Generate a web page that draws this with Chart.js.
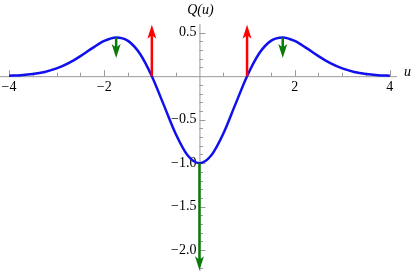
<!DOCTYPE html>
<html>
<head>
<meta charset="utf-8">
<script src="https://cdn.jsdelivr.net/npm/chart.js@4/dist/chart.umd.min.js"></script>
<style>
  html, body { margin: 0; padding: 0; background: #fff; }
  canvas { display: block; }
</style>
</head>
<body>
<canvas id="qChart" width="415" height="271"></canvas>
<script>
// Q(u) curve, values
const uValues = [-4, -3.75, -3.5, -3.25, -3, -2.75, -2.5, -2.25, -2, -1.75, -1.5, -1.25, -1, -0.75, -0.5, -0.25,
  0, 0.25, 0.5, 0.75, 1, 1.25, 1.5, 1.75, 2, 2.25, 2.5, 2.75, 3, 3.25, 3.5, 3.75, 4];
const qValues = [0.005, 0.012, 0.025, 0.049, 0.089, 0.150, 0.231, 0.323, 0.406, 0.446, 0.406, 0.258, 0, -0.330, -0.662, -0.909,
  -1, -0.909, -0.662, -0.330, 0, 0.258, 0.406, 0.446, 0.406, 0.323, 0.231, 0.150, 0.089, 0.049, 0.025, 0.012, 0.005];

// arrows: position, start, end, colour
const arrowU = [-1.75, -1, 1, 1.75, 0];
const arrowFrom = [0.446, 0, 0, 0.446, -1];
const arrowTo = [0.21, 0.59, 0.59, 0.21, -2.23];
const arrowColors = ['#0a7a0a', '#ff0000', '#ff0000', '#0a7a0a', '#0a7a0a'];

// tick labels
const xTickLabels = [-4, -2, 2, 4];
const yTickLabels = [0.5, -0.5, -1.0, -1.5, -2.0];

function fmt(v, digits) {
  const s = Math.abs(v).toFixed(digits);
  return (v < 0 ? '\u2212' : '') + s;
}

const axesPlugin = {
  id: 'mathAxes',
  beforeDatasetsDraw(chart) {
    const ctx = chart.ctx;
    const xs = chart.scales.x, ys = chart.scales.y;
    const area = chart.chartArea;
    const x0 = xs.getPixelForValue(0), y0 = ys.getPixelForValue(0);
    ctx.save();
    ctx.strokeStyle = '#999';
    ctx.lineWidth = 1;
    ctx.beginPath();
    ctx.moveTo(area.left, y0 + 0.5); ctx.lineTo(area.right, y0 + 0.5);
    ctx.moveTo(x0 + 0.5, area.top); ctx.lineTo(x0 + 0.5, area.bottom);
    // x ticks (minor every 0.5, major every 2)
    for (let k = -8; k <= 8; k++) {
      if (k === 0) continue;
      const px = Math.round(xs.getPixelForValue(k * 0.5)) + 0.5;
      const len = (k % 4 === 0) ? 6 : 3.5;
      ctx.moveTo(px, y0); ctx.lineTo(px, y0 - len);
    }
    // y ticks (minor every 0.1, major every 0.5)
    for (let k = -22; k <= 5; k++) {
      if (k === 0) continue;
      const py = Math.round(ys.getPixelForValue(k * 0.1)) + 0.5;
      const len = (k % 5 === 0) ? 6 : 3.5;
      ctx.moveTo(x0, py); ctx.lineTo(x0 + len, py);
    }
    ctx.stroke();

    ctx.fillStyle = '#000';
    ctx.font = '14px "Liberation Serif", serif';
    ctx.textAlign = 'center';
    ctx.textBaseline = 'top';
    xTickLabels.forEach(v => {
      ctx.fillText(fmt(v, 0), xs.getPixelForValue(v), y0 + 4);
    });
    ctx.textAlign = 'right';
    ctx.textBaseline = 'middle';
    yTickLabels.forEach(v => {
      ctx.fillText(fmt(v, 1), x0 - 3, ys.getPixelForValue(v));
    });
    ctx.font = 'italic 14px "Liberation Serif", serif';
    ctx.textAlign = 'center';
    ctx.textBaseline = 'alphabetic';
    ctx.fillText('Q(u)', x0 + 1, 14);
    ctx.textAlign = 'left';
    ctx.textBaseline = 'middle';
    ctx.fillText('u', area.right + 7, y0 - 4);
    ctx.restore();
  },
  afterDatasetsDraw(chart) {
    const ctx = chart.ctx;
    const xs = chart.scales.x, ys = chart.scales.y;
    ctx.save();
    arrowU.forEach((u, i) => {
      const px = xs.getPixelForValue(u);
      const pa = ys.getPixelForValue(arrowFrom[i]);
      const pb = ys.getPixelForValue(arrowTo[i]);
      const dir = pb < pa ? -1 : 1;
      const head = 14, half = 4.5;
      ctx.strokeStyle = arrowColors[i];
      ctx.fillStyle = arrowColors[i];
      ctx.lineWidth = 2.5;
      ctx.beginPath();
      ctx.moveTo(px, pa);
      ctx.lineTo(px, pb - dir * head * 0.7);
      ctx.stroke();
      ctx.beginPath();
      ctx.moveTo(px, pb);
      ctx.lineTo(px - half, pb - dir * head);
      ctx.lineTo(px, pb - dir * head * 0.75);
      ctx.lineTo(px + half, pb - dir * head);
      ctx.closePath();
      ctx.fill();
    });
    ctx.restore();
  }
};

new Chart(document.getElementById('qChart'), {
  type: 'scatter',
  data: {
    datasets: [{
      data: uValues.map((u, i) => ({ x: u, y: qValues[i] })),
      showLine: true,
      borderColor: '#1010ee',
      borderWidth: 2.5,
      pointRadius: 0,
      cubicInterpolationMode: 'monotone',
      fill: false
    }]
  },
  options: {
    responsive: false,
    animation: false,
    layout: { padding: { top: 24, right: 18, left: 0, bottom: 0 } },
    plugins: { legend: { display: false }, tooltip: { enabled: false } },
    scales: {
      x: { type: 'linear', min: -4.19, max: 4.15, display: false },
      y: { type: 'linear', min: -2.24, max: 0.6, display: false }
    }
  },
  plugins: [axesPlugin]
});
</script>
</body>
</html>
